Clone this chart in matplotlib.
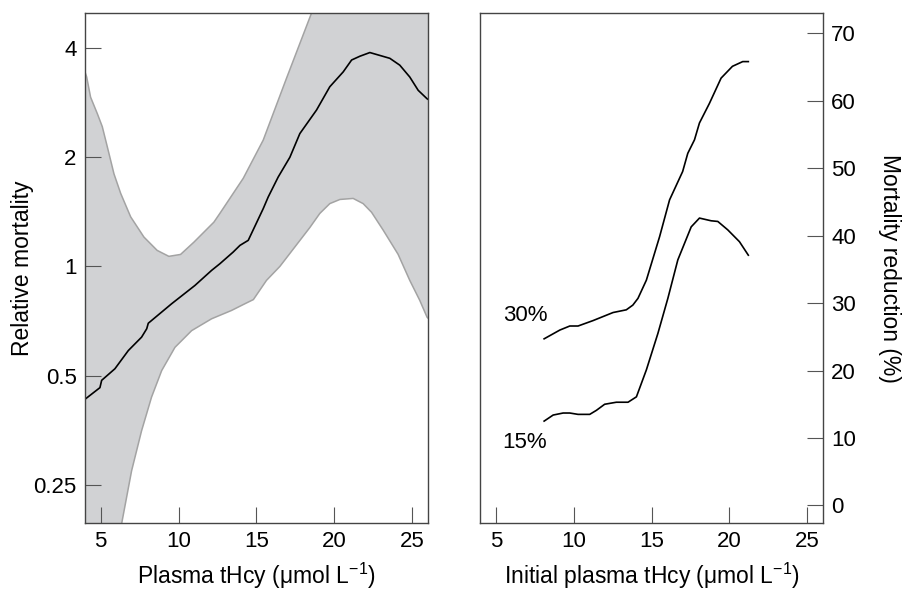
#
# Relative mortality vs plasma tHcy (left) and mortality reduction (right).
#

import matplotlib
matplotlib.use("Agg")
import matplotlib.pyplot as plt
import numpy as np
from matplotlib.ticker import FixedLocator, NullLocator

plt.rcParams['font.family'] = ['Liberation Sans', 'DejaVu Sans']
plt.rcParams['mathtext.fontset'] = 'custom'
plt.rcParams['mathtext.rm'] = 'Liberation Sans'

# left panel: relative mortality (log scale) with confidence band
mid_x = [4.0, 4.96, 5.07, 5.92, 6.78, 7.63, 7.96, 8.06, 9.56, 11.05, 12.12, 12.65,
         13.5, 13.94, 14.47, 15.43, 15.75, 16.39, 17.14, 17.78, 18.85, 19.7,
         20.56, 21.1, 21.63, 22.27, 23.55, 24.19, 24.83, 25.37, 25.94, 26.0]
mid_y = [0.43, 0.463, 0.485, 0.522, 0.586, 0.638, 0.673, 0.697, 0.789, 0.886, 0.975,
         1.017, 1.095, 1.143, 1.18, 1.443, 1.554, 1.764, 2.0, 2.325, 2.70, 3.13,
         3.44, 3.71, 3.80, 3.89, 3.75, 3.59, 3.33, 3.06, 2.90, 2.89]

upper_x = [4.0, 4.11, 4.36, 4.79, 5.11, 5.43, 5.86, 6.29, 6.93, 7.78, 8.63, 9.38,
           10.13, 10.99, 12.27, 12.65, 14.15, 15.43, 16.92, 18.53, 20.0, 22.0,
           24.0, 26.0]
upper_y = [3.44, 3.33, 2.93, 2.64, 2.43, 2.14, 1.80, 1.59, 1.37, 1.205, 1.107, 1.066,
           1.079, 1.167, 1.325, 1.40, 1.75, 2.23, 3.30, 5.0, 7.3, 9.0, 10.0, 10.0]

lower_x = [4.0, 5.0, 6.0, 6.35, 6.99, 7.63, 8.27, 8.92, 9.77, 10.84, 12.12, 13.4,
           14.26, 14.8, 15.64, 16.5, 18.42, 19.06, 19.7, 20.35, 21.2, 21.84, 22.38,
           23.12, 24.08, 24.83, 25.47, 25.94, 26.0]
lower_y = [0.05, 0.09, 0.15, 0.195, 0.273, 0.352, 0.436, 0.516, 0.598, 0.665, 0.717,
           0.756, 0.789, 0.81, 0.915, 1.0, 1.28, 1.40, 1.49, 1.53, 1.54, 1.49, 1.41,
           1.26, 1.08, 0.915, 0.806, 0.724, 0.72]

# right panel: mortality reduction (%)
r30_x = [8.1, 9.11, 9.75, 10.28, 11.24, 12.53, 13.38, 13.8, 14.13, 14.67, 15.52,
         16.16, 17.0, 17.33, 17.76, 18.08, 18.72, 19.47, 20.2, 20.86, 21.22]
r30_y = [24.7, 26.0, 26.6, 26.6, 27.4, 28.6, 29.0, 29.7, 30.7, 33.4, 39.85,
         45.3, 49.5, 52.2, 54.2, 56.7, 59.6, 63.35, 65.1, 65.8, 65.8]

r15_x = [8.1, 8.68, 9.32, 9.75, 10.28, 11.03, 11.46, 11.99, 12.74, 13.49, 14.03,
         14.67, 15.41, 16.05, 16.69, 17.55, 18.08, 18.83, 19.26, 19.9, 20.65, 21.22]
r15_y = [12.5, 13.4, 13.7, 13.7, 13.5, 13.5, 14.1, 15.0, 15.3, 15.3, 16.1,
         20.1, 25.5, 30.7, 36.4, 41.3, 42.6, 42.2, 42.1, 40.85, 39.1, 37.1]

xticks = [5, 10, 15, 20, 25]
left_yticks = [0.25, 0.5, 1, 2, 4]
left_ylabels = ['0.25', '0.5', '1', '2', '4']
right_yticks = [0, 10, 20, 30, 40, 50, 60, 70]

band = '#d1d2d4'
edge = '#a3a3a3'
spine_c = '#444444'
tick_c = '#555555'
tick_fs = 16
label_fs = 16.5

fig = plt.figure(figsize=(9.03, 5.92), dpi=100)
ax1 = fig.add_axes([0.0941, 0.1166, 0.3799, 0.8614])
ax2 = fig.add_axes([0.5319, 0.1166, 0.3792, 0.8614])

# --- left
ax1.set_yscale('log')
grid = np.linspace(4, 26, 600)
lo = np.exp(np.interp(grid, lower_x, np.log(lower_y)))
hi = np.exp(np.interp(grid, upper_x, np.log(upper_y)))
ax1.fill_between(grid, lo, hi, color=band, lw=0)
ax1.plot(upper_x, upper_y, color=edge, lw=1.1)
ax1.plot(lower_x, lower_y, color=edge, lw=1.1)
ax1.plot(mid_x, mid_y, color='black', lw=1.2)

ax1.set_xlim(4, 26)
ax1.set_ylim(0.196, 5.0)
ax1.set_xticks(xticks)
ax1.yaxis.set_major_locator(FixedLocator(left_yticks))
ax1.set_yticklabels(left_ylabels)
ax1.yaxis.set_minor_locator(NullLocator())
ax1.tick_params(direction='in', length=11.5, width=0.8, color=tick_c, pad=6,
                labelsize=tick_fs)
ax1.tick_params(axis='x', pad=6)
ax1.set_xlabel('Plasma tHcy (\u03bcmol L$^{-1}$)', fontsize=label_fs, va='baseline')
ax1.xaxis.set_label_coords(0.5, -0.1195)
ax1.set_ylabel('Relative mortality', fontsize=label_fs, va='center')
ax1.yaxis.set_label_coords(-0.181, 0.5)

# --- right
ax2.plot(r30_x, r30_y, color='black', lw=1.2)
ax2.plot(r15_x, r15_y, color='black', lw=1.2)
ax2.text(6.87, 28.2, '30%', ha='center', va='center', fontsize=tick_fs)
ax2.text(6.87, 9.3, '15%', ha='center', va='center', fontsize=tick_fs)
ax2.set_xlim(4, 26)
ax2.set_ylim(-2.6, 73)
ax2.set_xticks(xticks)
ax2.set_yticks(right_yticks)
ax2.yaxis.tick_right()
ax2.yaxis.set_label_position('right')
ax2.tick_params(direction='in', length=11.5, width=0.8, color=tick_c, pad=6,
                labelsize=tick_fs)
ax2.tick_params(axis='x', pad=6)
ax2.set_xlabel('Initial plasma tHcy (\u03bcmol L$^{-1}$)', fontsize=label_fs,
               va='baseline')
ax2.xaxis.set_label_coords(0.5, -0.1195)
ax2.set_ylabel('Mortality reduction (%)', rotation=270, fontsize=label_fs,
               va='center')
ax2.yaxis.set_label_coords(1.194, 0.5)

for ax in (ax1, ax2):
    for s in ax.spines.values():
        s.set_color(spine_c)
        s.set_linewidth(1.0)

fig.savefig('out.png', dpi=100)
